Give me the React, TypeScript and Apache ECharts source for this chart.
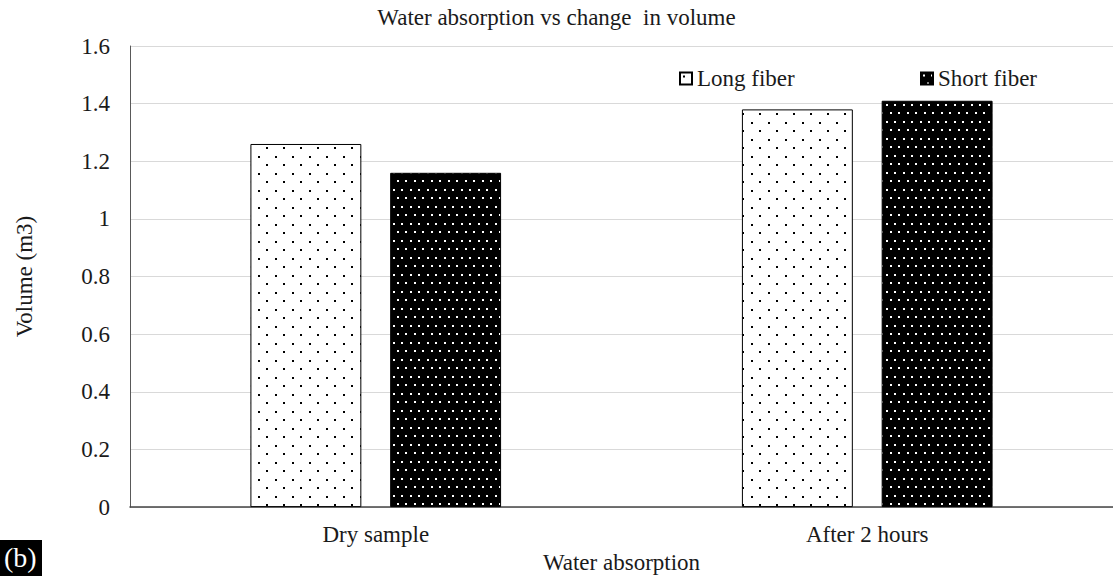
import React, { useEffect, useRef } from "react";
import * as echarts from "echarts";

const categories = ["Dry sample", "After 2 hours"];
const longFiber = [1.26, 1.38];
const shortFiber = [1.16, 1.41];
const seriesNames = ["Long fiber", "Short fiber"];
const titleText = "Water absorption vs change  in volume";
const xName = "Water absorption";
const yName = "Volume (m3)";

const FONT = "Liberation Serif";

function makePattern(bg: string, dot: string, dense: boolean): HTMLCanvasElement {
  const c = document.createElement("canvas");
  c.width = 17;
  c.height = 17;
  const ctx = c.getContext("2d")!;
  ctx.fillStyle = bg;
  ctx.fillRect(0, 0, 17, 17);
  ctx.fillStyle = dot;
  if (dense) {
    ctx.fillRect(2, 2, 2, 2);
    ctx.fillRect(10, 2, 2, 2);
    ctx.fillRect(6, 10, 2, 2);
    ctx.fillRect(14, 10, 2, 2);
  } else {
    ctx.fillRect(3, 3, 2, 2);
    ctx.fillRect(11, 11, 2, 2);
  }
  return c;
}

export default function App() {
  const ref = useRef<HTMLDivElement>(null);
  useEffect(() => {
    if (!ref.current) return;
    const chart = echarts.init(ref.current, undefined, { renderer: "svg" });
    const longPat = { image: makePattern("#ffffff", "#000000", false), repeat: "repeat" };
    const shortPat = { image: makePattern("#000000", "#ffffff", true), repeat: "repeat" };
    const labelStyle = { fontFamily: FONT, fontSize: 23, color: "#1a1a1a" };
    chart.setOption({
      animation: false,
      backgroundColor: "#ffffff",
      textStyle: { fontFamily: FONT },
      title: {
        text: titleText,
        left: "center",
        top: 1,
        textStyle: { fontFamily: FONT, fontSize: 23, fontWeight: "normal", color: "#1a1a1a" },
      },
      legend: [
        {
          data: [seriesNames[0]],
          left: 674,
          top: 62,
          icon: "rect",
          itemWidth: 12,
          itemHeight: 12,
          textStyle: labelStyle,
        },
        {
          data: [seriesNames[1]],
          left: 915,
          top: 62,
          icon: "rect",
          itemWidth: 12,
          itemHeight: 12,
          textStyle: labelStyle,
        },
      ],
      grid: { left: 130, right: -10, top: 46, bottom: 60, containLabel: false },
      xAxis: {
        type: "category",
        data: categories,
        name: xName,
        nameLocation: "middle",
        nameGap: 35,
        nameTextStyle: labelStyle,
        axisLine: { lineStyle: { color: "#444444", width: 1.5 } },
        axisTick: { show: false },
        axisLabel: { ...labelStyle, margin: 16 },
      },
      yAxis: {
        type: "value",
        min: 0,
        max: 1.6,
        interval: 0.2,
        name: yName,
        nameLocation: "middle",
        nameGap: 94,
        nameTextStyle: labelStyle,
        axisLine: { show: true, lineStyle: { color: "#595959", width: 1 } },
        axisTick: { show: false },
        axisLabel: { ...labelStyle, margin: 20 },
        splitLine: { lineStyle: { color: "#d9d9d9", width: 1 } },
      },
      series: [
        {
          name: seriesNames[0],
          type: "bar",
          data: longFiber,
          barGap: "26%",
          barCategoryGap: "49%",
          itemStyle: { color: longPat, borderColor: "#000000", borderWidth: 1 },
        },
        {
          name: seriesNames[1],
          type: "bar",
          data: shortFiber,
          itemStyle: { color: shortPat, borderColor: "#000000", borderWidth: 1 },
        },
      ],
      graphic: [
        { type: "rect", left: 0, top: 540, shape: { width: 42, height: 36 }, style: { fill: "#000000" } },
        {
          type: "text",
          left: 4,
          top: 543,
          style: { text: "(b)", fill: "#ffffff", fontFamily: FONT, fontSize: 28 },
        },
      ],
    });
    return () => chart.dispose();
  }, []);
  return (
    <div
      ref={ref}
      style={{ position: "absolute", left: 0, top: 0, width: 1113, height: 579 }}
    />
  );
}
